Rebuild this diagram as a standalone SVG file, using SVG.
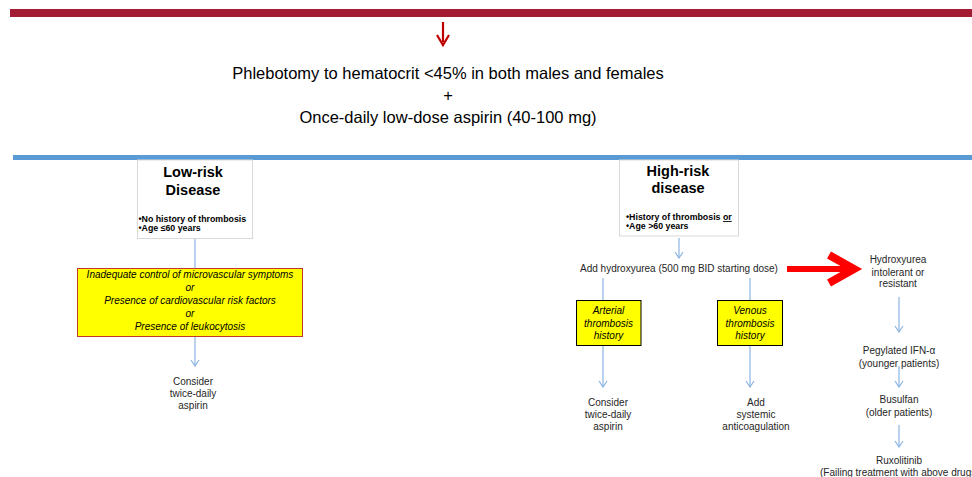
<svg xmlns="http://www.w3.org/2000/svg" width="972" height="477" viewBox="0 0 972 477">
<style>
text{font-family:"Liberation Sans",Arial,sans-serif;fill:#262626;}
.top{font-size:16.5px;fill:#000;text-anchor:middle;}
.ttl{font-size:14.5px;font-weight:bold;fill:#000;text-anchor:middle;}
.bul{font-size:8.8px;font-weight:bold;fill:#000;}
.n{font-size:10px;text-anchor:middle;}
.it{font-size:10px;font-style:italic;text-anchor:middle;fill:#000;}
.wbox{fill:#fff;stroke:#D9D9D9;stroke-width:1;}
.ybox{fill:#FFFF00;stroke:#C0392B;stroke-width:1;}
.ybox2{fill:#FFFF00;stroke:#000;stroke-width:1;}
.c{stroke:#8DB4E2;stroke-width:1.2;fill:none;}
</style>
<defs>
<marker id="ah" markerWidth="10" markerHeight="10" refX="9" refY="5" orient="auto" markerUnits="userSpaceOnUse" viewBox="0 0 10 10">
<polyline points="3,1 9,5 3,9" fill="none" stroke="#8DB4E2" stroke-width="1.2"/>
</marker>
</defs>
<rect x="10" y="9" width="962" height="8" fill="#A31C33"/>
<g id="topArrow">
<line x1="443" y1="22" x2="443" y2="42" stroke="#C00000" stroke-width="2.2"/>
<polyline points="437,35 443,45 449,35" fill="none" stroke="#C00000" stroke-width="2.2"/>
</g>
<g id="topText">
<text class="top" x="448" y="79">Phlebotomy to hematocrit &lt;45% in both males and females</text>
<text class="top" x="448" y="101">+</text>
<text class="top" x="448" y="123">Once-daily low-dose aspirin (40-100 mg)</text>
</g>
<rect x="13" y="155" width="959" height="5" fill="#5B9BD5"/>
<g id="connectors">
<line class="c" x1="195" y1="239" x2="195" y2="268"/>
<line class="c" x1="195" y1="337" x2="195" y2="366" marker-end="url(#ah)"/>
<line class="c" x1="679" y1="238" x2="679" y2="258" marker-end="url(#ah)"/>
<line class="c" x1="603" y1="278" x2="603" y2="301"/>
<line class="c" x1="750" y1="278" x2="750" y2="301"/>
<line class="c" x1="603" y1="346" x2="603" y2="387" marker-end="url(#ah)"/>
<line class="c" x1="750" y1="346" x2="750" y2="387" marker-end="url(#ah)"/>
<line class="c" x1="899" y1="297" x2="899" y2="332" marker-end="url(#ah)"/>
<line class="c" x1="899" y1="366" x2="899" y2="387" marker-end="url(#ah)"/>
<line class="c" x1="899" y1="425" x2="899" y2="447" marker-end="url(#ah)"/>
<g id="bigArrow">
<line x1="787" y1="269" x2="851" y2="269" stroke="#FF0000" stroke-width="6"/>
<polyline points="829,255 854,269 829,283" fill="none" stroke="#FF0000" stroke-width="8" stroke-linejoin="miter" stroke-miterlimit="10"/>
</g>
</g>
<g id="lowRisk">
<rect class="wbox" x="137.5" y="160" width="115" height="78.5"/>
<text class="ttl" x="193" y="177">Low-risk</text>
<text class="ttl" x="193" y="195">Disease</text>
<text class="bul" x="138.5" y="222">•No history of thrombosis</text>
<text class="bul" x="138.5" y="231">•Age ≤60 years</text>
</g>
<g id="lowCond">
<rect class="ybox" x="77.5" y="268.5" width="225" height="68"/>
<text class="it" x="190" y="278">Inadequate  control of microvascular  symptoms</text>
<text class="it" x="190" y="291">or</text>
<text class="it" x="190" y="304">Presence of cardiovascular  risk factors</text>
<text class="it" x="190" y="317">or</text>
<text class="it" x="190" y="330">Presence of leukocytosis</text>
</g>
<g id="lowResult">
<text class="n" x="193" y="385">Consider</text>
<text class="n" x="193" y="397">twice-daily</text>
<text class="n" x="193" y="409">aspirin</text>
</g>
<g id="highRisk">
<rect class="wbox" x="619.5" y="160" width="119" height="76"/>
<text class="ttl" x="678" y="176">High-risk</text>
<text class="ttl" x="678" y="193">disease</text>
<text class="bul" x="626" y="220">•History of thrombosis <tspan text-decoration="underline">or</tspan></text>
<text class="bul" x="626" y="229">•Age &gt;60 years</text>
</g>
<g id="hydroxyurea">
<text class="n" x="679" y="272">Add hydroxyurea  (500  mg  BID  starting  dose)</text>
</g>
<g id="arterial">
<rect class="ybox2" x="576.5" y="300.5" width="64.5" height="45"/>
<text class="it" x="608.5" y="314">Arterial</text>
<text class="it" x="608.5" y="327">thrombosis</text>
<text class="it" x="608.5" y="339">history</text>
</g>
<g id="venous">
<rect class="ybox2" x="717.5" y="300.5" width="65" height="45"/>
<text class="it" x="750" y="314">Venous</text>
<text class="it" x="750" y="327">thrombosis</text>
<text class="it" x="750" y="339">history</text>
</g>
<g id="arterialResult">
<text class="n" x="608" y="406">Consider</text>
<text class="n" x="608" y="418">twice-daily</text>
<text class="n" x="608" y="430">aspirin</text>
</g>
<g id="venousResult">
<text class="n" x="756" y="406">Add</text>
<text class="n" x="756" y="418">systemic</text>
<text class="n" x="756" y="430">anticoagulation</text>
</g>
<g id="hydroxyIntolerant">
<text class="n" x="898" y="263">Hydroxyurea</text>
<text class="n" x="898" y="276">intolerant  or</text>
<text class="n" x="898" y="287">resistant</text>
</g>
<g id="pegylated">
<text class="n" x="899" y="354">Pegylated IFN-α</text>
<text class="n" x="899" y="367">(younger  patients)</text>
</g>
<g id="busulfan">
<text class="n" x="899" y="403">Busulfan</text>
<text class="n" x="899" y="416">(older  patients)</text>
</g>
<g id="ruxolitinib">
<text class="n" x="899" y="464">Ruxolitinib</text>
<text class="n" x="820" y="476" style="text-anchor:start">(Failing  treatment  with  above  drugs)</text>
</g>
</svg>
